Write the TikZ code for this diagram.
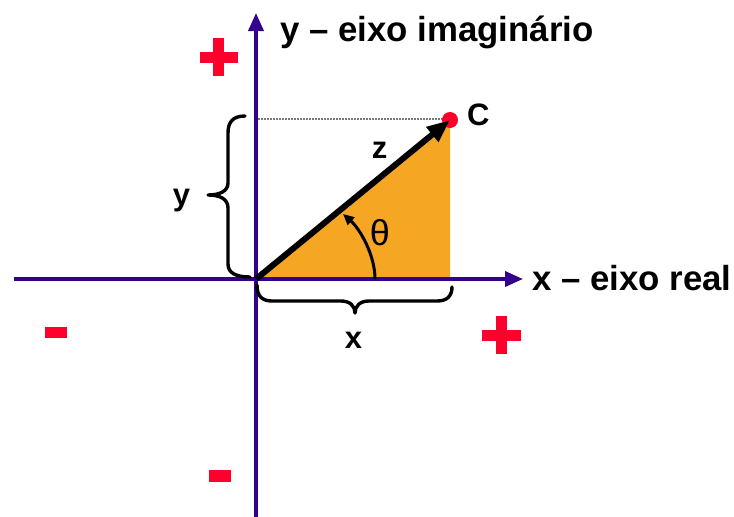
\documentclass[tikz,border=0pt]{standalone}
\usepackage{fontspec}
\setmainfont{Liberation Sans}
\usetikzlibrary{arrows.meta}
\definecolor{axiscol}{RGB}{51,0,140}
\definecolor{tri}{RGB}{245,166,35}
\definecolor{sign}{RGB}{255,0,45}
\definecolor{dotgray}{RGB}{120,120,120}
\begin{document}
\begin{tikzpicture}[x=1pt,y=-1pt,
  axis/.style={draw=axiscol, line width=3.6pt, -{Triangle[length=18pt,width=15pt]}},
  brace/.style={draw=black, line width=3.4pt, line cap=round, line join=round},
  bigtxt/.style={font=\fontsize{34.8}{40}\selectfont\bfseries, inner sep=0pt},
  lbl/.style={font=\fontsize{31}{36}\selectfont\bfseries, inner sep=0pt},
  thetatxt/.style={font=\fontsize{36}{40}\selectfont, inner sep=0pt},
  signbar/.style={fill=sign}]
\useasboundingbox[fill=white] (0,0) rectangle (734,517);
% key points
\coordinate (O) at (256,279);
\coordinate (F) at (450,279);
\coordinate (Cp) at (450,120);
\coordinate (xs) at (14,279);
\coordinate (xe) at (523,279);
\coordinate (ys) at (256,517);
\coordinate (ye) at (256,13);
\coordinate (Ys) at (258,119);
\coordinate (Ye) at (446,119);
\coordinate (A1) at (375,279);
\coordinate (A2) at (343,214);
% orange triangle
\fill[tri] (O) -- (Cp) -- (F) -- cycle;
% dotted projection
\draw[dotgray, line width=1.5pt, dash pattern=on 2pt off 1pt] (Ys) -- (Ye);
% axes
\draw[axis] (xs) -- (xe);
\draw[axis] (ys) -- (ye);
% point C
\node[circle, fill=sign, minimum size=16pt, inner sep=0pt] (Cdot) at (Cp) {};
% vector z
\draw[line width=6pt, -{Triangle[length=23pt,width=18pt]}] (O) -- (Cp);
% angle arc
\draw[line width=3pt, -{Triangle[length=11pt,width=10pt]}] (A1) .. controls (375,255) and (360,229) .. (A2);
% braces
\draw[brace] (245,116) .. controls (233,116) and (228,122) .. (228,133) -- (228,183)
  .. controls (228,191) and (220,195) .. (208,195)
  .. controls (220,195) and (228,199) .. (228,208) -- (228,264)
  .. controls (228,273) and (236,277) .. (250,277);
\draw[brace] (257,285) .. controls (257,296) and (262,301) .. (272,301) -- (341,301)
  .. controls (350,301) and (355,306) .. (355,313)
  .. controls (355,306) and (360,301) .. (369,301) -- (437,301)
  .. controls (447,301) and (452,296) .. (452,287);
% signs
\fill[signbar] (199.5,51.5) rectangle (237.5,62.5);
\fill[signbar] (213,38) rectangle (224,76);
\fill[signbar] (482,329.5) rectangle (521,340.5);
\fill[signbar] (496,316) rectangle (507,354);
\fill[signbar] (45,326.5) rectangle (67,337.5);
\fill[signbar] (209,470) rectangle (231,481.5);
% labels
\node[bigtxt, anchor=base west] (ylab) at (280,41) {y – eixo imaginário};
\node[bigtxt, anchor=base west] (xlab) at (532,290) {x – eixo real};
\node[lbl, anchor=base west] (Clab) at (467,125) {C};
\node[lbl, anchor=base] (zlab) at (379.5,158) {z};
\node[thetatxt, anchor=base] (th) at (380,245) {θ};
\node[lbl, anchor=base] (xl) at (353.5,348) {x};
\node[lbl, anchor=base] (yl) at (181.5,205) {y};
\end{tikzpicture}
\end{document}
